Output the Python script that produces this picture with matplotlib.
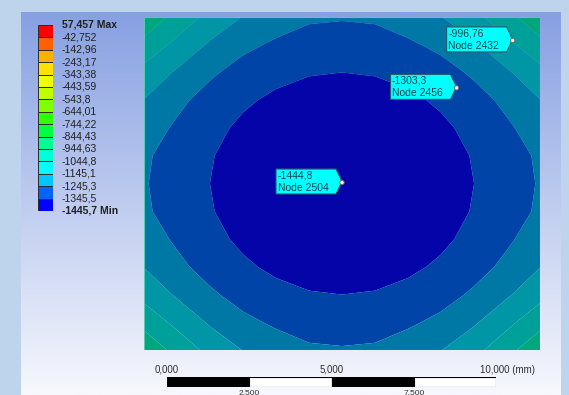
import numpy as np
import matplotlib
matplotlib.use('Agg')
import matplotlib.pyplot as plt
from matplotlib.colors import LinearSegmentedColormap
from matplotlib.patches import Polygon, Circle
from matplotlib.transforms import IdentityTransform, blended_transform_factory

plt.rcParams['font.family'] = ['Liberation Sans', 'DejaVu Sans']

# legend boundaries, bottom (min) to top (max)
LEVELS = [-1445.7, -1345.5, -1245.3, -1145.1, -1044.8, -944.63, -844.43, -744.22,
          -644.01, -543.8, -443.59, -343.38, -243.17, -142.96, -42.752, 57.457]

LEGEND_COLORS = ['#0000ff', '#0064ff', '#00c8ff', '#00ffff', '#00ffd8', '#00ff90',
                 '#00ff40', '#30ff00', '#80ff00', '#c0ff00', '#f0ff00', '#ffe000',
                 '#ffb000', '#ff6000', '#ff0000']
# the plate is drawn lit, so its colours are darker than the legend's
PLATE_COLORS = ['#0404a8', '#0044a8', '#0078a6', '#0096a6', '#00a09a', '#00a67c',
                '#00a82a', '#20a800', '#54a800', '#7ea800', '#9ea800', '#a89400',
                '#a87400', '#a84000', '#a80000']

# nodal values for one quarter of the plate (row/col 0 = plate centre, 6 = edge)
QUARTER_FIELD = [
    [-1445.7, -1439.4, -1420.7, -1389.4, -1345.6, -1289.3, -1238.0],
    [-1439.4, -1433.2, -1414.4, -1383.1, -1339.4, -1283.1, -1232.0],
    [-1420.7, -1414.4, -1395.5, -1363.7, -1318.8, -1260.8, -1196.0],
    [-1389.4, -1383.1, -1363.7, -1331.0, -1283.5, -1221.6, -1147.9],
    [-1345.6, -1339.4, -1318.8, -1283.5, -1229.3, -1157.7, -1075.4],
    [-1289.3, -1283.1, -1260.8, -1221.6, -1157.7, -1071.7, -976.6],
    [-1238.0, -1232.0, -1196.0, -1147.9, -1075.4, -976.6, -870.3],
]
PLATE_W, PLATE_H = 12.0, 10.1  # mm

# probes
PROBE_X = [6.0, 9.47, 11.17]
PROBE_Y = [5.08, 7.95, 9.39]
PROBE_VAL = [-1444.8, -1303.3, -996.76]
PROBE_NODE = [2504, 2456, 2432]

SCALE_TICKS = [0, 2.5, 5, 7.5, 10]

FIG_W, FIG_H = 569, 395


def px_axes(fig, x0, y0, x1, y1):
    return fig.add_axes([x0 / FIG_W, 1 - y1 / FIG_H, (x1 - x0) / FIG_W, (y1 - y0) / FIG_H])


def fmt(v, digits=5):
    return f'{v:.{digits}g}'.replace('.', ',')


fig = plt.figure(figsize=(FIG_W / 100, FIG_H / 100), dpi=100)
fig.patch.set_facecolor('#bdd4ec')

# gradient panel
ax_bg = px_axes(fig, 21, 12, 561, 395)
grad = LinearSegmentedColormap.from_list('bg', ['#87a0e2', '#f7f8fd'])
ax_bg.imshow(np.linspace(0, 1, 256).reshape(-1, 1), cmap=grad, aspect='auto',
             extent=(0, 1, 0, 1))
ax_bg.axis('off')

# plate contour
ax = px_axes(fig, 144, 17, 540, 350)
quad = np.array(QUARTER_FIELD)
half = np.vstack([quad[::-1], quad[1:]])
field = np.hstack([half[:, ::-1], half[:, 1:]])
xs = np.linspace(0, PLATE_W, field.shape[1])
ys = np.linspace(0, PLATE_H, field.shape[0])
ax.contourf(xs, ys, field, levels=LEVELS, colors=PLATE_COLORS, antialiased=True)
ax.set_xlim(0, PLATE_W)
ax.set_ylim(0, PLATE_H)
ax.axis('off')
ax.add_patch(plt.Rectangle((0, 0), PLATE_W, PLATE_H, fill=False,
                           edgecolor='#5ac8b4', lw=0.8))

# probe flags
ident = IdentityTransform()
for x, y, v, node in zip(PROBE_X, PROBE_Y, PROBE_VAL, PROBE_NODE):
    tx, ty = ax.transData.transform((x, y))
    verts = [(tx - 66, ty + 13.5), (tx - 6, ty + 13.5), (tx, ty + 1),
             (tx - 6, ty - 11.5), (tx - 66, ty - 11.5)]
    fig.add_artist(Polygon(verts, closed=True, facecolor='#00ffff',
                           edgecolor='#2a5866', lw=0.8, transform=ident))
    fig.add_artist(Circle((tx, ty), 2.2, facecolor='#f4eee8', edgecolor='#706060',
                          lw=0.6, transform=ident))
    fig.text(tx - 64.5, ty + 7, fmt(v), transform=ident, fontsize=7.5,
             color='#17404a', va='center', ha='left')
    fig.text(tx - 64.5, ty - 5.5, f'Node {node}', transform=ident, fontsize=7.5,
             color='#17404a', va='center', ha='left')

# legend
ax_leg = px_axes(fig, 38, 25, 53, 211)
n_bands = len(LEVELS) - 1
ax_leg.bar(np.zeros(n_bands), np.ones(n_bands), bottom=np.arange(n_bands), width=1,
           color=LEGEND_COLORS, edgecolor='#2a2a2a', lw=0.7)
ax_leg.set_xlim(-0.5, 0.5)
ax_leg.set_ylim(0, n_bands)
ax_leg.axis('off')
lab_tr = blended_transform_factory(ax_leg.transAxes, ax_leg.transData)
for i, lv in enumerate(LEVELS):
    txt = fmt(lv)
    weight = 'normal'
    if i == 0:
        txt += ' Min'
        weight = 'bold'
    elif i == len(LEVELS) - 1:
        txt += ' Max'
        weight = 'bold'
    ax_leg.text(1.6, i, txt, transform=lab_tr, fontsize=7.5, color='#202020',
                va='center', ha='left', fontweight=weight, clip_on=False)

# scale bar
ax_sb = px_axes(fig, 167, 377, 496, 387)
ax_sb.barh(0, np.diff(SCALE_TICKS), left=SCALE_TICKS[:-1], height=1,
           color=['black', 'white', 'black', 'white'], edgecolor='black', lw=0.8)
ax_sb.set_xlim(SCALE_TICKS[0], SCALE_TICKS[-1])
ax_sb.set_ylim(-0.5, 0.5)
ax_sb.axis('off')
for i, t in enumerate(SCALE_TICKS):
    label = f'{t:.3f}'.replace('.', ',')
    if i % 2 == 0:
        if i == len(SCALE_TICKS) - 1:
            ax_sb.annotate(label + ' (mm)', xy=(t, 0.5), xytext=(-16, 2),
                           textcoords='offset pixels', fontsize=7, color='#303030',
                           ha='left', va='bottom', annotation_clip=False)
        else:
            ax_sb.annotate(label, xy=(t, 0.5), xytext=(0, 2),
                           textcoords='offset pixels', fontsize=7, color='#303030',
                           ha='center', va='bottom', annotation_clip=False)
    else:
        ax_sb.annotate(label, xy=(t, -0.5), xytext=(0, -7.5),
                       textcoords='offset pixels', fontsize=6, color='#303030',
                       ha='center', va='baseline', annotation_clip=False)

fig.savefig('out.png', dpi=100, facecolor=fig.get_facecolor())
